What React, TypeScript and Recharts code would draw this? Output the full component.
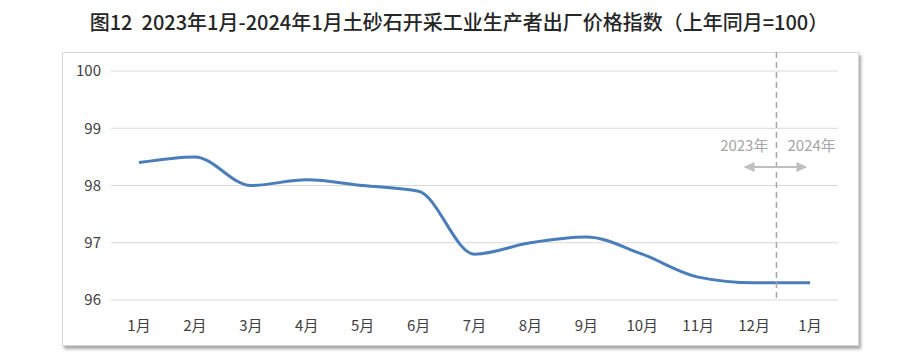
import { LineChart, Line, XAxis, YAxis, CartesianGrid, ReferenceLine } from "recharts"

const months = ["1月", "2月", "3月", "4月", "5月", "6月", "7月", "8月", "9月", "10月", "11月", "12月", "1月"]
const priceIndex = [98.4, 98.5, 98.0, 98.1, 98.0, 97.9, 96.8, 97.0, 97.1, 96.8, 96.4, 96.3, 96.3]
const yTicks = [96, 97, 98, 99, 100]
const yearLabels = ["2023年", "2024年"]

const data = months.map((m, i) => ({ key: `${m}-${i}`, month: m, value: priceIndex[i] }))

const FONT = '"Noto Sans CJK SC", "Noto Sans", sans-serif'

const CHART_W = 900
const MARGIN = { top: 71, right: 62, bottom: 26, left: 71 }
const Y_AXIS_W = 40
const X_PAD = 28
// distance between two category points
const step = (CHART_W - MARGIN.left - MARGIN.right - Y_AXIS_W - 2 * X_PAD) / (months.length - 1)

// dashed year divider + arrows, drawn from the reference line at 12月
function YearDivider(props: any) {
  const { x1, y1, y2 } = props
  const x = x1 + step * 0.4
  const top = Math.min(y1, y2) - 19
  const bottom = Math.max(y1, y2)
  const textY = top + 99
  const arrowY = top + 115
  const gray = "#bfbfbf"
  return (
    <g>
      <line x1={x} x2={x} y1={top} y2={bottom} stroke="#a6a6a6" strokeWidth={1.5} strokeDasharray="6 4" />
      <text x={x - 8} y={textY} textAnchor="end" fontSize={15} fill="#a6a6a6" fontFamily={FONT}>
        {yearLabels[0]}
      </text>
      <text x={x + 11} y={textY} textAnchor="start" fontSize={15} fill="#a6a6a6" fontFamily={FONT}>
        {yearLabels[1]}
      </text>
      <line x1={x - 26} x2={x + 24} y1={arrowY} y2={arrowY} stroke={gray} strokeWidth={2} />
      <polygon points={`${x - 33},${arrowY} ${x - 22},${arrowY - 5} ${x - 22},${arrowY + 5}`} fill={gray} />
      <polygon points={`${x + 31},${arrowY} ${x + 20},${arrowY - 5} ${x + 20},${arrowY + 5}`} fill={gray} />
    </g>
  )
}

export default function App() {
  return (
    <div style={{ position: "absolute", left: 0, top: 0, width: 900, height: 356, background: "#fff", fontFamily: FONT }}>
      <div
        style={{
          position: "absolute",
          left: 0,
          top: 8,
          width: 918,
          textAlign: "center",
          fontSize: 20,
          fontWeight: 500,
          color: "#262626",
          lineHeight: "28px",
          whiteSpace: "pre",
        }}
      >
        {"图12  2023年1月-2024年1月土砂石开采工业生产者出厂价格指数（上年同月=100）"}
      </div>

      {/* frame */}
      <div
        style={{
          position: "absolute",
          left: 62,
          top: 52,
          width: 795,
          height: 292,
          border: "1px solid #d9d9d9",
          boxShadow: "2px 3px 3px rgba(0,0,0,0.35)",
          background: "#fff",
        }}
      />

      <div style={{ position: "absolute", left: 0, top: 0 }}>
        <LineChart width={CHART_W} height={356} data={data} margin={MARGIN}>
          <CartesianGrid vertical={false} stroke="#d9d9d9" />
          <XAxis
            dataKey="key"
            tickFormatter={(v: string) => v.split("-")[0]}
            axisLine={false}
            tickLine={false}
            padding={{ left: X_PAD, right: X_PAD }}
            interval={0}
            height={30}
            tick={{ fontSize: 15, fill: "#404040", fontFamily: FONT }}
            tickMargin={14}
          />
          <YAxis
            domain={[96, 100]}
            ticks={yTicks}
            axisLine={false}
            tickLine={false}
            width={Y_AXIS_W}
            tick={{ fontSize: 15, fill: "#404040", fontFamily: FONT }}
            tickMargin={4}
          />
          <Line
            type="monotone"
            dataKey="value"
            stroke="#4a7ebb"
            strokeWidth={3}
            dot={false}
            isAnimationActive={false}
          />
          <ReferenceLine x={data[11].key} ifOverflow="visible" shape={YearDivider} />
        </LineChart>
      </div>
    </div>
  )
}
